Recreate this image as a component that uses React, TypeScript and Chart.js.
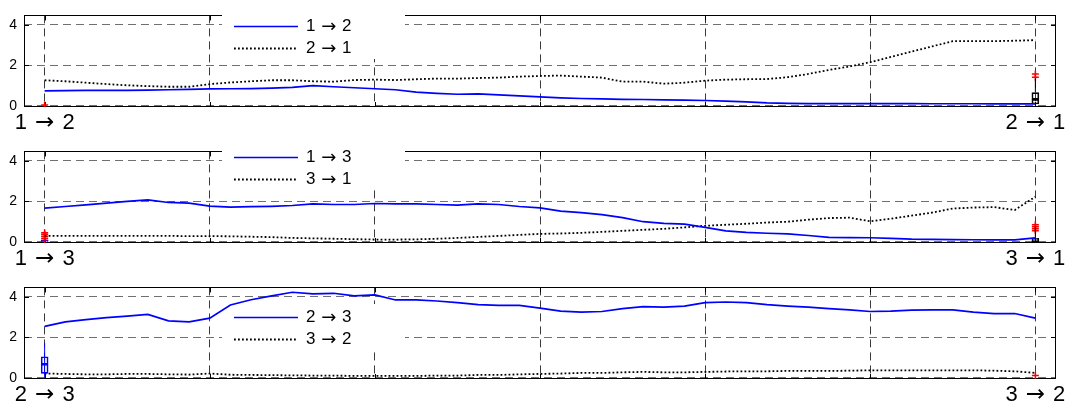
import React, { useEffect, useRef } from "react";
import { Chart, registerables } from "chart.js";

Chart.register(...registerables);

// ---------- data ----------
const pointCount = 49;
const xIndex = Array.from({ length: pointCount }, (_, i) => i);
const xGridTicks = [0, 8, 16, 24, 32, 40, 48];
const yTickValues = [0, 2, 4];

// panel 1: 1 → 2 / 2 → 1
const p1Labels = ["1 → 2", "2 → 1"];
const p1Forward = [
  0.75, 0.76, 0.77, 0.77, 0.77, 0.78, 0.8, 0.82, 0.84, 0.85,
  0.86, 0.88, 0.92, 1.0, 0.95, 0.9, 0.85, 0.8, 0.68, 0.62,
  0.58, 0.6, 0.55, 0.5, 0.45, 0.4, 0.37, 0.35, 0.33, 0.32,
  0.3, 0.29, 0.27, 0.24, 0.2, 0.15, 0.13, 0.12, 0.12, 0.12,
  0.12, 0.12, 0.12, 0.11, 0.11, 0.11, 0.1, 0.1, 0.1,
];
const p1Backward = [
  1.27, 1.22, 1.15, 1.08, 1.02, 0.98, 0.95, 0.95, 1.08, 1.16,
  1.22, 1.27, 1.27, 1.22, 1.2, 1.28, 1.3, 1.28, 1.32, 1.35,
  1.35, 1.38, 1.4, 1.45, 1.48, 1.5, 1.45, 1.4, 1.2, 1.2,
  1.1, 1.15, 1.25, 1.3, 1.32, 1.33, 1.42, 1.58, 1.78, 1.95,
  2.16, 2.42, 2.68, 2.94, 3.2, 3.2, 3.2, 3.22, 3.25,
];
const p1LeftOutliers = [0.05];
const p1RightBox = [[0.1, 0.33], [0.33, 0.66]];
const p1RightWhisker = [0.66, 1.36];
const p1RightOutliers = [1.42, 1.58];

// panel 2: 1 → 3 / 3 → 1
const p2Labels = ["1 → 3", "3 → 1"];
const p2Forward = [
  1.67, 1.75, 1.83, 1.92, 2.0, 2.08, 1.95, 1.92, 1.77, 1.72,
  1.74, 1.76, 1.8, 1.88, 1.85, 1.85, 1.9, 1.88, 1.88, 1.85,
  1.82, 1.88, 1.85, 1.75, 1.68, 1.52, 1.45, 1.35, 1.2, 1.0,
  0.92, 0.88, 0.72, 0.55, 0.47, 0.43, 0.4, 0.32, 0.23, 0.22,
  0.21, 0.18, 0.14, 0.13, 0.12, 0.11, 0.1, 0.1, 0.2,
];
const p2Backward = [
  0.3, 0.3, 0.3, 0.3, 0.3, 0.3, 0.3, 0.29, 0.29, 0.28,
  0.26, 0.24, 0.2, 0.18, 0.16, 0.14, 0.12, 0.12, 0.13, 0.16,
  0.2, 0.25, 0.3, 0.35, 0.4, 0.42, 0.45, 0.5, 0.55, 0.6,
  0.65, 0.72, 0.8, 0.85, 0.9, 0.96, 1.0, 1.1, 1.18, 1.2,
  1.02, 1.15, 1.3, 1.45, 1.65, 1.7, 1.72, 1.58, 2.23,
];
const p2LeftOutliers = [0.08, 0.18, 0.28, 0.38, 0.46];
const p2LeftBox = [[0.0, 0.04], [0.04, 0.08]];
const p2RightBox = [[0.02, 0.1], [0.1, 0.18]];
const p2RightWhisker = [0.18, 0.75];
const p2RightOutliers = [0.55, 0.65, 0.75, 0.85];

// panel 3: 2 → 3 / 3 → 2
const p3Labels = ["2 → 3", "3 → 2"];
const p3Forward = [
  2.55, 2.77, 2.88, 2.98, 3.05, 3.14, 2.82, 2.77, 2.95, 3.6,
  3.86, 4.05, 4.23, 4.15, 4.18, 4.05, 4.1, 3.85, 3.85, 3.8,
  3.72, 3.62, 3.58, 3.58, 3.45, 3.3, 3.25, 3.28, 3.42, 3.52,
  3.5, 3.55, 3.72, 3.75, 3.72, 3.62, 3.55, 3.5, 3.42, 3.36,
  3.28, 3.3, 3.35, 3.36, 3.36, 3.25, 3.18, 3.18, 2.95,
];
const p3Backward = [
  0.22, 0.2, 0.18, 0.18, 0.2, 0.2, 0.18, 0.17, 0.22, 0.16,
  0.15, 0.14, 0.13, 0.12, 0.12, 0.1, 0.1, 0.1, 0.1, 0.12,
  0.12, 0.15, 0.15, 0.18, 0.2, 0.22, 0.25, 0.25, 0.28, 0.3,
  0.28, 0.28, 0.3, 0.32, 0.33, 0.33, 0.35, 0.35, 0.35, 0.36,
  0.38, 0.38, 0.38, 0.38, 0.38, 0.38, 0.36, 0.33, 0.25,
];
const p3LeftBox = [[0.23, 0.68], [0.68, 1.05]];
const p3LeftWhisker = [0.0, 1.73];
const p3RightOutliers = [0.12];

// ---------- styles / layout ----------
const FONT = "'Liberation Sans', Arial, Helvetica, sans-serif";
const ARROW_FONT = "'DejaVu Sans', 'Liberation Sans', sans-serif";
const BLUE = "#0000ff";
const BLACK = "#000000";
const RED = "#ff0000";

type Box = { at: number; box: number[][]; whisker?: number[]; color: string };
type PanelCfg = {
  labels: string[];
  forward: number[];
  backward: number[];
  boxes: Box[];
  outliers: { at: number; values: number[] }[];
  top: number;
  canvasH: number;
  padTop: number;
  areaH: number;
  legendTop: number;
};

const panels: PanelCfg[] = [
  {
    labels: p1Labels, forward: p1Forward, backward: p1Backward,
    boxes: [{ at: 48, box: p1RightBox, whisker: p1RightWhisker, color: BLACK }],
    outliers: [{ at: 0, values: p1LeftOutliers }, { at: 48, values: p1RightOutliers }],
    top: 0, canvasH: 136, padTop: 11, areaH: 96, legendTop: 13,
  },
  {
    labels: p2Labels, forward: p2Forward, backward: p2Backward,
    boxes: [
      { at: 0, box: p2LeftBox, color: BLUE },
      { at: 48, box: p2RightBox, whisker: p2RightWhisker, color: BLACK },
    ],
    outliers: [{ at: 0, values: p2LeftOutliers }, { at: 48, values: p2RightOutliers }],
    top: 136, canvasH: 136, padTop: 10, areaH: 97, legendTop: 8,
  },
  {
    labels: p3Labels, forward: p3Forward, backward: p3Backward,
    boxes: [{ at: 0, box: p3LeftBox, whisker: p3LeftWhisker, color: BLUE }],
    outliers: [{ at: 48, values: p3RightOutliers }],
    top: 272, canvasH: 136, padTop: 10, areaH: 97, legendTop: 32,
  },
];

function buildDatasets(cfg: PanelCfg): any[] {
  const ds: any[] = [
    {
      type: "line",
      label: cfg.labels[0],
      data: xIndex.map((x, i) => ({ x, y: cfg.forward[i] })),
      borderColor: BLUE,
      borderWidth: 1.7,
      pointRadius: 0,
      tension: 0,
    },
    {
      type: "line",
      label: cfg.labels[1],
      data: xIndex.map((x, i) => ({ x, y: cfg.backward[i] })),
      borderColor: BLACK,
      borderWidth: 1.8,
      borderDash: [1.8, 2.2],
      pointRadius: 0,
      tension: 0,
    },
  ];
  cfg.boxes.forEach((b) => {
    if (b.whisker) {
      ds.push({
        type: "line",
        label: "_whisker",
        data: b.whisker.map((y) => ({ x: b.at, y })),
        borderColor: b.color,
        borderWidth: 1,
        pointRadius: 0,
      });
    }
    ds.push({
      type: "bar",
      label: "_box",
      data: b.box.map((r) => ({ x: b.at, y: r })),
      borderColor: b.color,
      backgroundColor: "rgba(255,255,255,0)",
      borderWidth: 1,
      borderSkipped: false,
      barThickness: 7,
      grouped: false,
    });
  });
  cfg.outliers.forEach((o) => {
    ds.push({
      type: "line",
      label: "_outliers",
      data: o.values.map((y) => ({ x: o.at, y })),
      showLine: false,
      pointStyle: "cross",
      pointRadius: 3.5,
      pointBorderColor: RED,
      pointBackgroundColor: RED,
      pointBorderWidth: 1.5,
    });
  });
  return ds;
}

// draws text, taking the arrow glyph from a font with a long arrow
function drawMixed(ctx: CanvasRenderingContext2D, text: string, x: number, y: number, size: number, arrowSize: number, gap: number, align: "left" | "center") {
  const parts = text.split(/(→| )/).filter((p) => p.length > 0);
  const fontFor = (p: string) => (p === "→" ? `${arrowSize}px ${ARROW_FONT}` : `${size}px ${FONT}`);
  const widths = parts.map((p) => {
    ctx.font = fontFor(p);
    return ctx.measureText(p).width + (p === " " ? gap : 0);
  });
  const total = widths.reduce((a, b) => a + b, 0);
  let cx = align === "center" ? x - total / 2 : x;
  ctx.textBaseline = "middle";
  ctx.textAlign = "left";
  parts.forEach((p, i) => {
    ctx.font = fontFor(p);
    if (p !== " ") ctx.fillText(p, cx, p === "→" ? y + size * 0.02 : y);
    cx += widths[i];
  });
}

// frame + inset legend, drawn after the grid and before the data lines
function framePlugin(cfg: PanelCfg) {
  return {
    id: "frameAndLegend",
    beforeDatasetsDraw(chart: any) {
      const { ctx, chartArea } = chart;
      const { left, top, right, bottom } = chartArea;
      const xs = chart.scales.x;
      const ys = chart.scales.y;
      ctx.save();
      ctx.setLineDash([]);
      ctx.strokeStyle = "#000";
      ctx.lineWidth = 1;
      ctx.strokeRect(Math.round(left) + 0.5, Math.round(top) + 0.5, Math.round(right - left) - 1, Math.round(bottom - top) - 1);
      ctx.beginPath();
      yTickValues.forEach((v) => {
        const py = Math.round(ys.getPixelForValue(v)) + 0.5;
        ctx.moveTo(left, py); ctx.lineTo(left + 5, py);
        ctx.moveTo(right - 5, py); ctx.lineTo(right, py);
      });
      xGridTicks.forEach((v) => {
        const px = Math.round(xs.getPixelForValue(v)) + 0.5;
        ctx.moveTo(px, top); ctx.lineTo(px, top + 5);
        ctx.moveTo(px, bottom - 5); ctx.lineTo(px, bottom);
      });
      ctx.stroke();

      // legend
      const bx = 222, bw = 183, bh = 46;
      const by = cfg.legendTop;
      ctx.fillStyle = "#fff";
      ctx.fillRect(bx, by, bw, bh);
      const rows = [13, 35];
      chart.data.datasets.slice(0, 2).forEach((d: any, k: number) => {
        const y = by + rows[k] + 0.5;
        ctx.beginPath();
        ctx.strokeStyle = d.borderColor;
        ctx.lineWidth = d.borderWidth;
        ctx.setLineDash(d.borderDash || []);
        ctx.moveTo(bx + 12, y);
        ctx.lineTo(bx + 76, y);
        ctx.stroke();
        ctx.setLineDash([]);
        ctx.fillStyle = "#000";
        drawMixed(ctx, d.label, bx + 84, y, 17, 18, 1, "left");
      });
      ctx.restore();
    },
    afterDraw(chart: any) {
      const { ctx, chartArea } = chart;
      const xs = chart.scales.x;
      const ends = [xGridTicks[0], xGridTicks[xGridTicks.length - 1]];
      ctx.save();
      ctx.fillStyle = "#000";
      ends.forEach((v, k) => {
        drawMixed(ctx, cfg.labels[k], xs.getPixelForValue(v), chartArea.bottom + 15.5, 22, 23, 2, "center");
      });
      ctx.restore();
    },
  };
}

function Panel({ cfg }: { cfg: PanelCfg }) {
  const ref = useRef<HTMLCanvasElement>(null);
  useEffect(() => {
    const xAxisH = cfg.canvasH - cfg.padTop - cfg.areaH;
    const chart = new Chart(ref.current as HTMLCanvasElement, {
      type: "line",
      data: { datasets: buildDatasets(cfg) },
      options: {
        responsive: false,
        animation: false,
        events: [],
        layout: { padding: { top: cfg.padTop, left: 0, right: 23, bottom: 0 } },
        plugins: { legend: { display: false }, tooltip: { enabled: false } },
        scales: {
          x: {
            type: "linear",
            min: -1,
            max: 49,
            offset: false,
            afterBuildTicks: (s: any) => {
              s.ticks = xGridTicks.map((v) => ({ value: v }));
            },
            afterFit: (s: any) => {
              s.height = xAxisH;
            },
            ticks: {
              autoSkip: false,
              maxRotation: 0,
              display: false,
            },
            grid: { color: "#3a3a3a", lineWidth: 1, drawTicks: false, offset: false },
            border: { display: false, dash: [8, 5] },
          },
          y: {
            type: "linear",
            min: -0.05,
            max: 4.47,
            afterBuildTicks: (s: any) => {
              s.ticks = yTickValues.map((v) => ({ value: v }));
            },
            afterFit: (s: any) => {
              s.width = 24;
            },
            ticks: {
              padding: 7,
              color: "#000",
              font: { family: FONT, size: 14 },
              callback: (v: any) => String(v),
            },
            grid: { color: "#707070", lineWidth: 1, drawTicks: false },
            border: { display: false, dash: [8, 5] },
          },
        },
      } as any,
      plugins: [framePlugin(cfg)],
    });
    return () => chart.destroy();
  }, [cfg]);
  return (
    <canvas
      ref={ref}
      width={1079}
      height={cfg.canvasH}
      style={{ position: "absolute", left: 0, top: cfg.top, width: 1079, height: cfg.canvasH }}
    />
  );
}

export default function App() {
  return (
    <div style={{ position: "fixed", left: 0, top: 0, width: 1079, height: 408, background: "#fff", overflow: "hidden" }}>
      {panels.map((p, i) => (
        <Panel key={i} cfg={p} />
      ))}
    </div>
  );
}
